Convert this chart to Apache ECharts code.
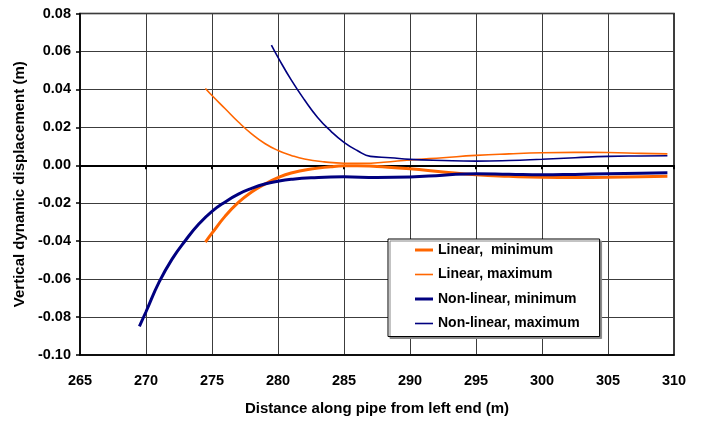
<!DOCTYPE html>
<html>
<head>
<meta charset="utf-8">
<script src="https://cdn.jsdelivr.net/npm/echarts@6/dist/echarts.min.js"></script>
<style>
  html, body { margin: 0; padding: 0; background: #fff; }
  #chart { width: 704px; height: 421px; }
</style>
</head>
<body>
<div id="chart"></div>
<script>
// Distance along the pipe (m) and vertical dynamic displacement (m) for each envelope
const linMinX = [274.5, 275, 276, 277, 278, 279, 280, 281, 282.5, 284, 285, 286, 287.5, 290, 292.5, 295, 297.5, 300, 302.5, 305, 307.5, 309.5];
const linMinY = [-0.0405, -0.0358, -0.0268, -0.0196, -0.0141, -0.0099, -0.0065, -0.0041, -0.0020, -0.0008, -0.0003, -0.0002, -0.0007, -0.0018, -0.0035, -0.0050, -0.0058, -0.0063, -0.0064, -0.0063, -0.0060, -0.0058];

const linMaxX = [274.5, 275, 276, 277, 278, 279, 280, 281, 282, 283.5, 285, 286.5, 288, 290, 292.5, 295, 297.5, 300, 302.5, 305, 307.5, 309.5];
const linMaxY = [0.0405, 0.0368, 0.0298, 0.0228, 0.0166, 0.0115, 0.0078, 0.0052, 0.0033, 0.0018, 0.0011, 0.0011, 0.0016, 0.0028, 0.0040, 0.0052, 0.0060, 0.0066, 0.0068, 0.0067, 0.0063, 0.0060];

const nlMinX = [269.5, 270, 271, 272, 273, 274, 275, 276, 277, 278, 279, 280, 281, 282.5, 285, 287.5, 290, 292.5, 295, 297.5, 300, 302.5, 305, 307.5, 309.5];
const nlMinY = [-0.0849, -0.0772, -0.0615, -0.0492, -0.0395, -0.0310, -0.0243, -0.0193, -0.0152, -0.0122, -0.0099, -0.0084, -0.0074, -0.0066, -0.0061, -0.0064, -0.0062, -0.0052, -0.0044, -0.0047, -0.0050, -0.0048, -0.0045, -0.0042, -0.0040];

const nlMaxX = [279.5, 280, 281, 282, 283, 284, 285, 286, 287, 288.5, 290, 292.5, 295, 297.5, 300, 302.5, 305, 307.5, 309.5];
const nlMaxY = [0.0633, 0.0569, 0.0450, 0.0345, 0.0252, 0.0180, 0.0121, 0.0078, 0.0047, 0.0040, 0.0031, 0.0025, 0.0022, 0.0025, 0.0032, 0.0040, 0.0047, 0.0049, 0.0050];

const seriesNames = ['Linear,  minimum', 'Linear, maximum', 'Non-linear, minimum', 'Non-linear, maximum'];

// Axis ranges and tick steps
const xMin = 265, xMax = 310, xStep = 5;
const yMin = -0.10, yMax = 0.08, yStep = 0.02;

const pairs = (xs, ys) => xs.map((x, i) => [x, ys[i]]);

const ORANGE = '#FF6600';
const NAVY = '#000080';
const FONT = '"Liberation Sans", Arial, sans-serif';
const THICK_ICON = 'path://M0,0H18V3H0Z';
const THIN_ICON = 'path://M0,0H18V1.6H0Z';

function curve(name, data, color, width) {
  return {
    name: name,
    type: 'line',
    xAxisIndex: 0,
    data: data,
    smooth: 0.5,
    symbol: 'none',
    showSymbol: false,
    lineStyle: { color: color, width: width },
    itemStyle: { color: color },
    emphasis: { disabled: true },
    z: 3
  };
}

const chart = echarts.init(document.getElementById('chart'), null, { renderer: 'canvas' });

chart.setOption({
  animation: false,
  backgroundColor: '#fff',
  textStyle: { fontFamily: FONT },
  grid: {
    left: 80, top: 13.5, right: 30, bottom: 59,
    show: true, borderColor: '#000', borderWidth: 1.5, backgroundColor: 'transparent'
  },
  xAxis: [
    {
      type: 'value', min: xMin, max: xMax, interval: xStep, position: 'bottom',
      name: 'Distance along pipe from left end (m)',
      nameLocation: 'middle', nameGap: 46,
      nameTextStyle: { fontFamily: FONT, fontWeight: 'bold', fontSize: 15, color: '#000' },
      axisLine: { onZero: false, show: true, lineStyle: { color: '#000', width: 1.5 } },
      axisTick: { show: false },
      axisLabel: { fontFamily: FONT, fontWeight: 'bold', fontSize: 14.5, color: '#000', margin: 18 },
      splitLine: { show: true, lineStyle: { color: '#3c3c3c', width: 1 } }
    },
    {
      // zero line with its small downward ticks
      type: 'value', min: xMin, max: xMax, interval: xStep, position: 'bottom',
      axisLine: { onZero: true, show: true, lineStyle: { color: '#000', width: 2 } },
      axisTick: { show: true, inside: false, length: 4, lineStyle: { color: '#000', width: 2 } },
      axisLabel: { show: false },
      splitLine: { show: false }
    }
  ],
  yAxis: {
    type: 'value', min: yMin, max: yMax, interval: yStep,
    name: 'Vertical dynamic displacement (m)',
    nameLocation: 'middle', nameGap: 53, nameRotate: 90,
    nameTextStyle: { fontFamily: FONT, fontWeight: 'bold', fontSize: 15, color: '#000' },
    axisLine: { show: true, onZero: false, lineStyle: { color: '#000', width: 1.5 } },
    axisTick: { show: true, length: 4, lineStyle: { color: '#000', width: 1.5 } },
    axisLabel: {
      fontFamily: FONT, fontWeight: 'bold', fontSize: 14.5, color: '#000', margin: 9,
      formatter: v => v.toFixed(2)
    },
    splitLine: { show: true, lineStyle: { color: '#3c3c3c', width: 1 } }
  },
  legend: {
    orient: 'vertical',
    left: 388, top: 239,
    padding: [4, 20, 6, 27],
    itemGap: 10.5,
    itemWidth: 18, itemHeight: 14,
    symbolKeepAspect: true,
    backgroundColor: '#fff',
    borderColor: '#000', borderWidth: 1,
    shadowColor: '#888', shadowOffsetX: 2, shadowOffsetY: 2, shadowBlur: 0,
    textStyle: { fontFamily: FONT, fontWeight: 'bold', fontSize: 14, color: '#000' },
    data: [
      { name: seriesNames[0], icon: THICK_ICON },
      { name: seriesNames[1], icon: THIN_ICON },
      { name: seriesNames[2], icon: THICK_ICON },
      { name: seriesNames[3], icon: THIN_ICON }
    ],
    selectedMode: false
  },
  series: [
    curve(seriesNames[0], pairs(linMinX, linMinY), ORANGE, 3),
    curve(seriesNames[1], pairs(linMaxX, linMaxY), ORANGE, 1.6),
    curve(seriesNames[2], pairs(nlMinX, nlMinY), NAVY, 3),
    curve(seriesNames[3], pairs(nlMaxX, nlMaxY), NAVY, 1.6)
  ]
});
</script>
</body>
</html>
